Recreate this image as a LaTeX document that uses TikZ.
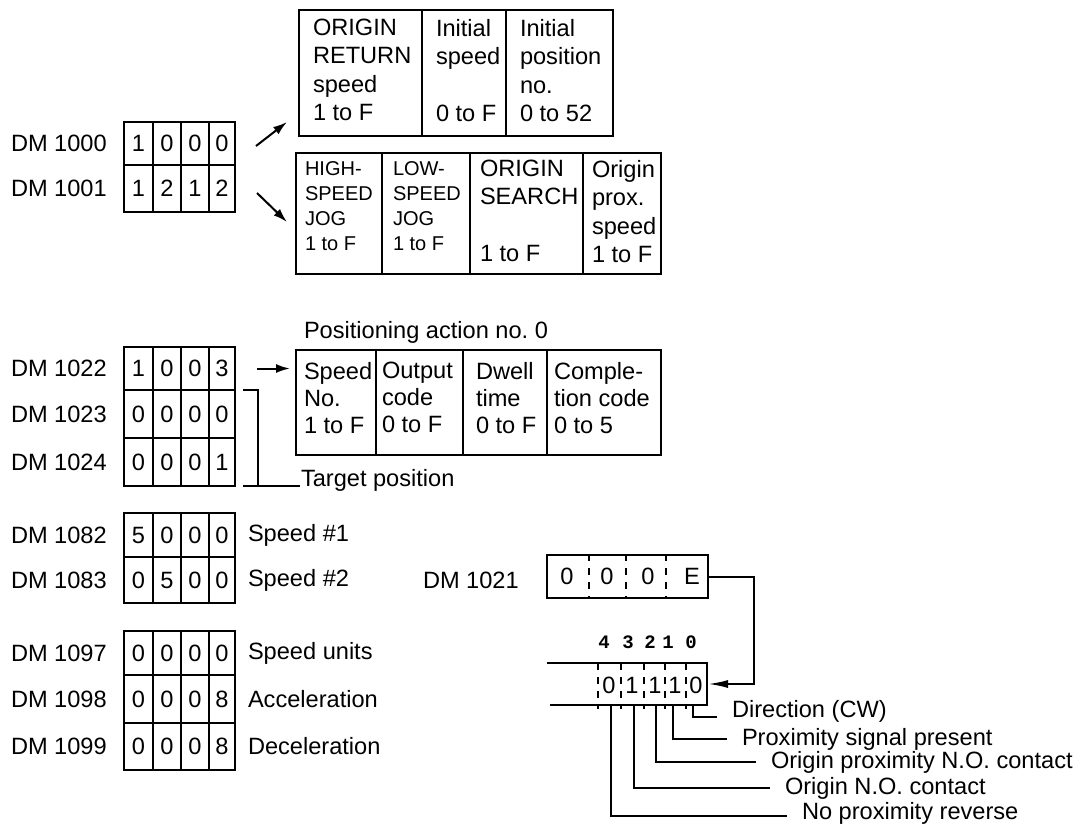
\documentclass[tikz,border=0pt]{standalone}
\usepackage{fontspec}
\setmainfont{Liberation Sans}
\setmonofont{Liberation Mono}
\usetikzlibrary{arrows.meta}
\newcommand{\txt}{\fontsize{11.8}{14.25}\selectfont}
\newcommand{\txtsm}{\fontsize{10}{12.5}\selectfont}
\newcommand{\txtpos}{\fontsize{11.8}{13.5}\selectfont}

\begin{document}
\begin{tikzpicture}[x=0.5pt,y=-0.5pt,line width=1pt,
  >={Latex[length=7pt,width=4.5pt]},
  lbl/.style={font=\txt,anchor=west,inner sep=0pt},
  dig/.style={font=\txt,inner sep=0pt},
  cell/.style={font=\txt,anchor=north west,align=left,inner sep=0pt},
  cellsm/.style={cell,font=\txtsm},
  cellpos/.style={cell,font=\txtpos},
  frame/.style={draw,inner sep=0pt,anchor=north west},
  bitno/.style={font=\ttfamily\bfseries\fontsize{9.5}{10}\selectfont,inner sep=0pt},
  sep/.style={dash pattern=on 3.5pt off 3.5pt}]
  \useasboundingbox (0,0) rectangle (1082,825);
  % data memory registers
  \foreach \n/\yt/\yb/\a/\b/\c/\d in {1000/122/165/1/0/0/0, 1001/165/212/1/2/1/2,
      1022/347/390/1/0/0/3, 1023/390/438/0/0/0/0, 1024/438/486/0/0/0/1,
      1082/513/557/5/0/0/0, 1083/557/603/0/5/0/0,
      1097/631/675/0/0/0/0, 1098/675/723/0/0/0/8, 1099/723/770/0/0/0/8}
  {
    \draw (124,\yt) rectangle (235,\yb);
    \foreach \x in {153,181,209} {\draw (\x,\yt) -- (\x,\yb);}
    \node[lbl] (dm\n) at (10,{(\yt+\yb)/2}) {DM \n};
    \coordinate (r\n) at (235,{(\yt+\yb)/2});
    \foreach \x/\v [count=\k] in {138.5/\a,167/\b,195/\c,222/\d}
      {\node[dig] (d\n-\k) at (\x,{(\yt+\yb)/2}) {\v};}
  }
  % origin return settings
  \node[frame,minimum width=157pt,minimum height=63pt] (ret) at (298,9) {};
  \draw (422,9) -- (422,135);
  \draw (506,9) -- (506,135);
  \node[cell] (ret1) at (312,18) {ORIGIN\\RETURN\\speed\\1 to F};
  \node[cell] (ret2) at (435,18) {Initial\\speed\\\mbox{}\\0 to F};
  \node[cell] (ret3) at (519,18) {Initial\\position\\no.\\0 to 52};
  % jog and search speeds
  \node[frame,minimum width=182.5pt,minimum height=60.5pt] (jog) at (295,152) {};
  \foreach \x in {382,470,583} {\draw (\x,152) -- (\x,273);}
  \node[cellsm] (jog1) at (304,161) {HIGH-\\SPEED\\JOG\\1 to F};
  \node[cellsm] (jog2) at (392,161) {LOW-\\SPEED\\JOG\\1 to F};
  \node[cell] (jog3) at (479,159) {ORIGIN\\SEARCH\\\mbox{}\\1 to F};
  \node[cell] (jog4) at (591,159) {Origin\\prox.\\speed\\1 to F};
  \draw[->] ([shift={(21,2.5)}]r1000) -- ([shift={(-11,-15)}]ret.south west);
  \draw[->] ([shift={(22,4.5)}]r1001) -- ([shift={(-8,70)}]jog.north west);
  % positioning action
  \node[lbl] (postitle) at (303,332) {Positioning action no.~0};
  \node[frame,minimum width=182.5pt,minimum height=52.5pt] (pos) at (295,349) {};
  \foreach \x in {376,463,547} {\draw (\x,349) -- (\x,454);}
  \node[cellpos] (pos1) at (303,361) {Speed\\No.\\1 to F};
  \node[cellpos] (pos2) at (381,361) {Output\\code\\0 to F};
  \node[cellpos] (pos3) at (475,361) {Dwell\\time\\0 to F};
  \node[cellpos] (pos4) at (553,361) {Comple-\\tion code\\0 to 5};
  \draw[->,shorten <=11pt,shorten >=2.5pt] (r1022) -- (r1022 -| pos.west);
  \node[lbl] (target) at (300,480) {Target position};
  \draw (243,390) -| (258,486);
  \draw (243,486) -- (target.west |- 258,486);
  % speeds and units
  \node[lbl] (sp1) at ([xshift=6pt]r1082) {Speed \#1};
  \node[lbl] (sp2) at ([xshift=6pt]r1083) {Speed \#2};
  \node[lbl] (units) at ([xshift=6pt]r1097) {Speed units};
  \node[lbl] (acc) at ([xshift=6pt]r1098) {Acceleration};
  \node[lbl] (dec) at ([xshift=6pt]r1099) {Deceleration};
  % origin search mode
  \node[lbl] (dm1021) at (422,580) {DM 1021};
  \node[frame,minimum width=80.5pt,minimum height=21.5pt] (mode) at (546,554) {};
  \foreach \x in {589,626,666} {\draw[sep] (\x,554) -- (\x,597);}
  \foreach \x/\v [count=\k] in {567/0,607/0,648/0,692/E}
    {\node[dig] (m\k) at (\x,576) {\v};}
  \draw (547,663) -- (707,663) -- (707,705) -- (550,705);
  \foreach \x in {598,621,644,665,686} {\draw[sep] (\x,663) -- (\x,709);}
  \foreach \x/\v [count=\k] in {609/0,632/1,655/1,675/1,696/0}
    {\node[dig] (b\k) at (\x,685) {\v};}
  \foreach \x/\v [count=\k] in {604/4,628/3,650/2,668/1,691/0}
    {\node[bitno] (bn\k) at (\x,642) {\v};}
  \coordinate (bitin) at (708,684);
  \draw[->,>={Latex[length=10pt,width=4pt]}] (mode.east) -- ++(45,0) |- (bitin);
  \foreach \x/\y/\dy/\lx/\t [count=\k] in {693/711/-3pt/731/Direction (CW),
      673/739/0pt/741/Proximity signal present, 656/762/0pt/770/Origin proximity N.O. contact,
      634/788/0pt/784/Origin N.O. contact, 611/813/-1.5pt/801/No proximity reverse}
  {
    \node[lbl] (lead\k) at (\lx,\y) {\t};
    \draw (\x,705) |- ([xshift=-7pt,yshift=\dy]lead\k.west);
  }
\end{tikzpicture}
\end{document}
